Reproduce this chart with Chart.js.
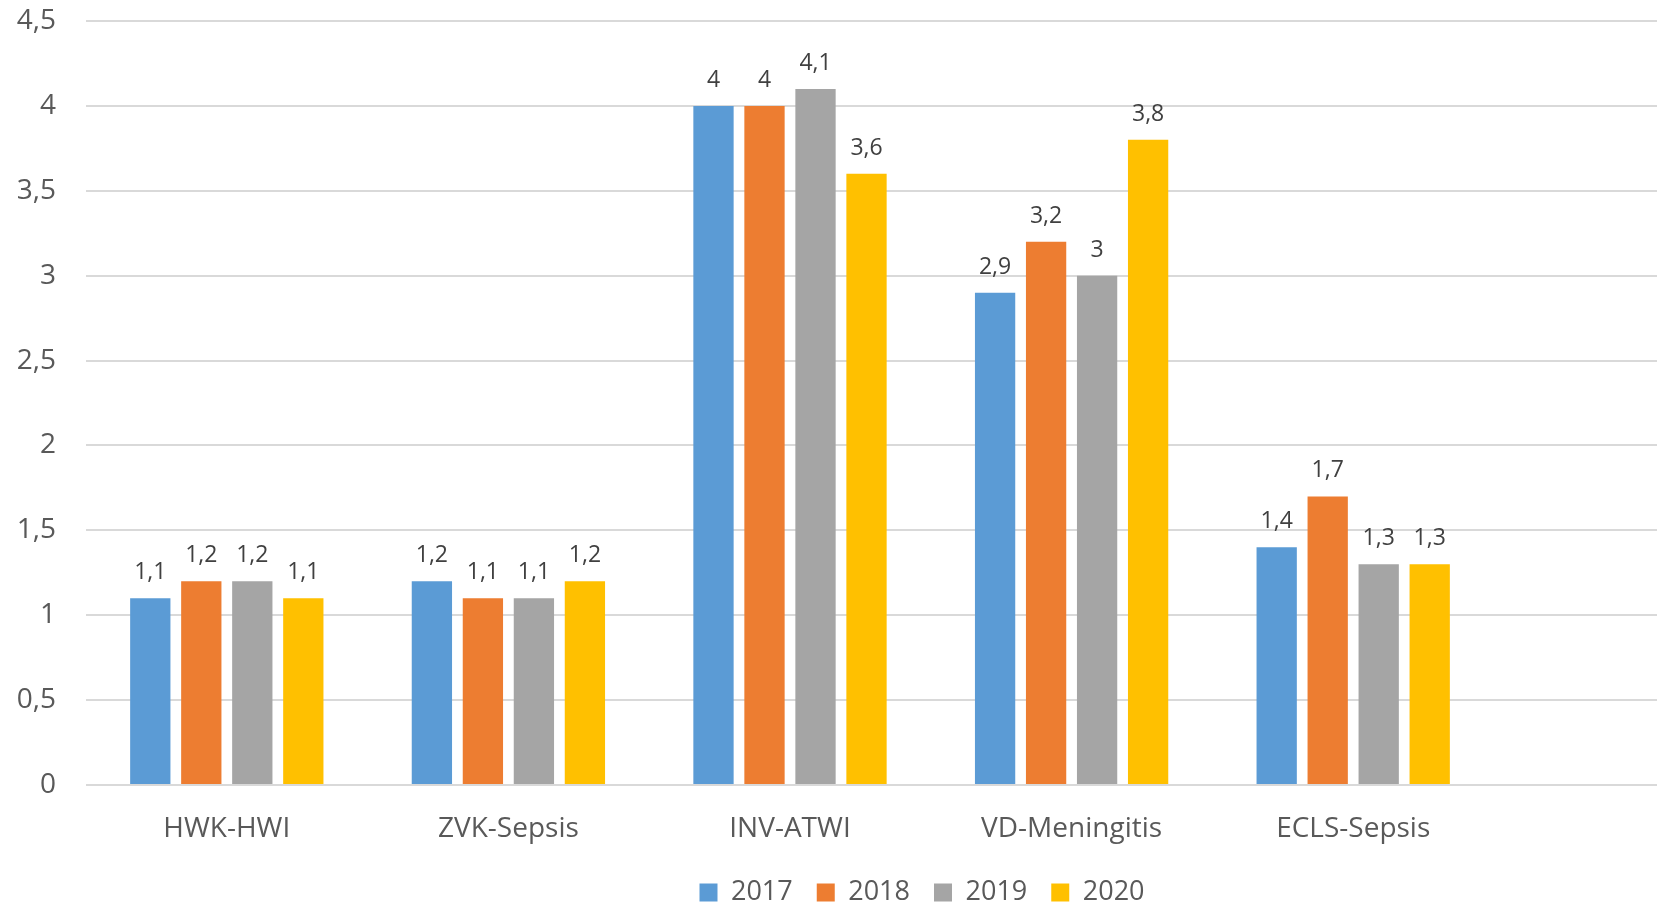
<!DOCTYPE html>
<html>
<head>
<meta charset="utf-8">
<script src="https://cdn.jsdelivr.net/npm/chart.js@4/dist/chart.umd.min.js"></script>
<style>
  html, body { margin: 0; padding: 0; background: #ffffff; overflow: hidden; }
  #wrap { width: 1864px; height: 916px; position: relative; }
</style>
</head>
<body>
<div id="wrap"><canvas id="c"></canvas></div>
<script>
// Infection rates per category and year
const categories = ['HWK-HWI', 'ZVK-Sepsis', 'INV-ATWI', 'VD-Meningitis', 'ECLS-Sepsis'];
const years = ['2017', '2018', '2019', '2020'];
const values2017 = [1.1, 1.2, 4.0, 2.9, 1.4];
const values2018 = [1.2, 1.1, 4.0, 3.2, 1.7];
const values2019 = [1.2, 1.1, 4.1, 3.0, 1.3];
const values2020 = [1.1, 1.2, 3.6, 3.8, 1.3];
const yTickValues = [0, 0.5, 1, 1.5, 2, 2.5, 3, 3.5, 4, 4.5];

const seriesValues = [values2017, values2018, values2019, values2020];
const seriesColors = ['#5B9BD5', '#ED7D31', '#A5A5A5', '#FFC000'];

const FONT = '"Open Sans", "Noto Sans", sans-serif';
const fmt = v => String(v).replace('.', ',');

// plot geometry: axis width on the left, width of one category slot
const AXIS_W = 86;
const PAD_RIGHT = 20;
const CANVAS_W = 1864;
const SLOT = 281.6;

// Value labels above every bar
const barValueLabels = {
  id: 'barValueLabels',
  afterDatasetsDraw(chart) {
    const ctx = chart.ctx;
    ctx.save();
    ctx.font = '23px ' + FONT;
    ctx.fillStyle = '#404040';
    ctx.textAlign = 'center';
    ctx.textBaseline = 'alphabetic';
    chart.data.datasets.forEach((ds, di) => {
      const meta = chart.getDatasetMeta(di);
      meta.data.forEach((bar, i) => {
        ctx.fillText(fmt(ds.data[i].y), bar.x, bar.y - 19);
      });
    });
    ctx.restore();
  }
};

const datasets = years.map((year, s) => ({
  label: year,
  data: seriesValues[s].map((v, i) => ({ x: i, y: v })),
  backgroundColor: seriesColors[s],
  borderWidth: 0,
  categoryPercentage: 0.7245,
  barPercentage: 0.79
}));

new Chart(document.getElementById('c'), {
  type: 'bar',
  data: { datasets },
  plugins: [barValueLabels],
  options: {
    responsive: true,
    maintainAspectRatio: false,
    animation: false,
    layout: { padding: { left: 0, right: PAD_RIGHT, top: 21, bottom: 0 } },
    plugins: {
      tooltip: { enabled: false },
      legend: {
        position: 'bottom',
        labels: {
          boxWidth: 18,
          boxHeight: 18,
          padding: 24,
          color: '#595959',
          font: { family: FONT, size: 27 }
        }
      }
    },
    scales: {
      x: {
        type: 'linear',
        offset: false,
        min: -0.5,
        max: -0.5 + (CANVAS_W - PAD_RIGHT - AXIS_W) / SLOT,
        grid: { display: false },
        border: { display: false },
        afterBuildTicks: scale => { scale.ticks = categories.map((c, i) => ({ value: i })); },
        afterFit: scale => { scale.height = 70; },
        ticks: {
          autoSkip: false,
          maxRotation: 0,
          padding: 19,
          color: '#595959',
          font: { family: FONT, size: 28 },
          callback: v => categories[v] ?? ''
        }
      },
      y: {
        min: 0,
        max: 4.5,
        afterBuildTicks: scale => { scale.ticks = yTickValues.map(v => ({ value: v })); },
        afterFit: scale => { scale.width = AXIS_W; },
        grid: { color: '#D9D9D9', lineWidth: 2, drawTicks: true, tickLength: 30, tickColor: 'rgba(0,0,0,0)' },
        border: { display: false },
        ticks: {
          padding: 0,
          color: '#595959',
          font: { family: FONT, size: 28 },
          callback: v => fmt(v)
        }
      }
    }
  }
});
</script>
</body>
</html>
